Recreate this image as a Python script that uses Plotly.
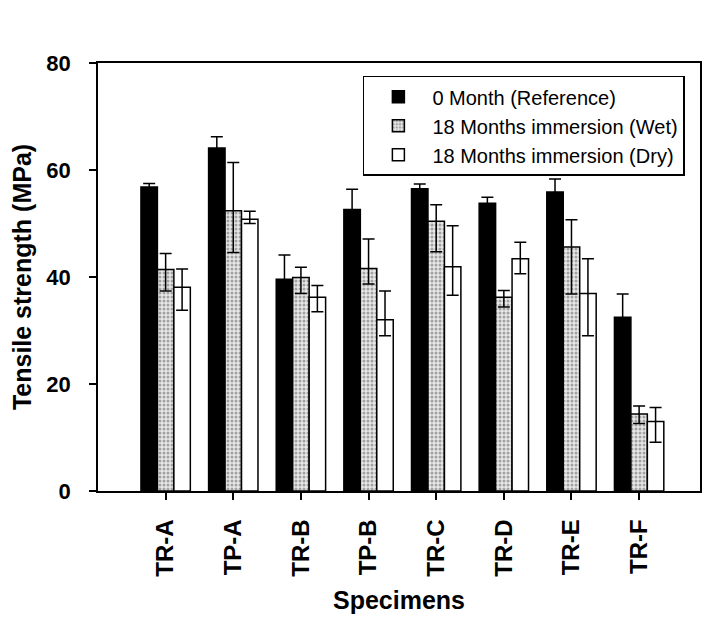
import plotly.graph_objects as go

categories = ["TR-A", "TP-A", "TR-B", "TP-B", "TR-C", "TR-D", "TR-E", "TR-F"]

ref_vals = [56.8, 64.1, 39.6, 52.6, 56.5, 53.8, 55.9, 32.5]
ref_err = [0.7, 2.1, 4.5, 3.8, 0.9, 1.1, 2.4, 4.3]

wet_vals = [41.4, 52.4, 39.9, 41.6, 50.4, 36.2, 45.6, 14.4]
wet_err_plus = [3.0, 9.0, 1.9, 5.5, 3.1, 1.3, 5.1, 1.5]
wet_err_minus = [4.0, 7.8, 3.0, 2.9, 5.7, 1.8, 8.8, 1.8]

dry_vals = [38.1, 50.8, 36.2, 32.0, 41.9, 43.4, 36.9, 13.0]
dry_err_plus = [3.4, 1.5, 2.2, 5.4, 7.7, 3.1, 6.5, 2.6]
dry_err_minus = [4.3, 0.8, 2.7, 3.0, 5.3, 2.8, 7.9, 3.9]

series_names = ["0 Month (Reference)", "18 Months immersion (Wet)", "18 Months immersion (Dry)"]
y_ticks = [0, 20, 40, 60, 80]

FONT = "Liberation Sans, Arial, sans-serif"
LINE = dict(color="black", width=1.5)

fig = go.Figure()
fig.add_trace(go.Bar(
    x=categories, y=ref_vals, name=series_names[0],
    marker=dict(color="black", line=LINE),
    error_y=dict(type="data", array=ref_err, color="black", thickness=1.5, width=6),
))
fig.add_trace(go.Bar(
    x=categories, y=wet_vals, name=series_names[1],
    marker=dict(color="#dcdcdc", line=LINE,
                pattern=dict(shape=".", fgcolor="#5a5a5a", bgcolor="#e8e8e8", size=4, solidity=0.45)),
    error_y=dict(type="data", array=wet_err_plus, arrayminus=wet_err_minus, symmetric=False,
                 color="black", thickness=1.5, width=6),
))
fig.add_trace(go.Bar(
    x=categories, y=dry_vals, name=series_names[2],
    marker=dict(color="white", line=LINE),
    error_y=dict(type="data", array=dry_err_plus, arrayminus=dry_err_minus, symmetric=False,
                 color="black", thickness=1.5, width=6),
))

fig.update_layout(
    width=717, height=615,
    margin=dict(l=90, r=25, t=55, b=132),
    paper_bgcolor="white", plot_bgcolor="white",
    barmode="group", bargap=0.27, bargroupgap=0,
    font=dict(family=FONT, color="black"),
    legend=dict(
        x=0.44, y=0.970, xanchor="left", yanchor="top",
        bordercolor="black", borderwidth=1.5, bgcolor="white",
        font=dict(family=FONT, size=20, color="black"),
        itemwidth=58, tracegroupgap=0,
    ),
    showlegend=True,
)
fig.update_xaxes(
    range=[-1.0, 7.9], showline=True, linecolor="black", linewidth=1.5, mirror=True,
    ticks="outside", ticklen=7, tickwidth=1.5, tickcolor="black",
    tickangle=-90, tickfont=dict(family=FONT, size=24, weight="bold", color="black"),
    ticklabelstandoff=10,
    title=dict(text="Specimens", font=dict(family=FONT, size=25, weight="bold"), standoff=16),
    showgrid=False, automargin=False,
)
fig.update_yaxes(
    range=[0, 80], tickvals=y_ticks, showline=True, linecolor="black", linewidth=1.5, mirror=True,
    ticks="outside", ticklen=7, tickwidth=1.5, tickcolor="black",
    tickfont=dict(family=FONT, size=22, weight="bold", color="black"),
    ticklabelstandoff=14,
    title=dict(text="Tensile strength (MPa)", font=dict(family=FONT, size=25, weight="bold"), standoff=14),
    showgrid=False, zeroline=False, automargin=False,
)

fig.write_html("out.html")
